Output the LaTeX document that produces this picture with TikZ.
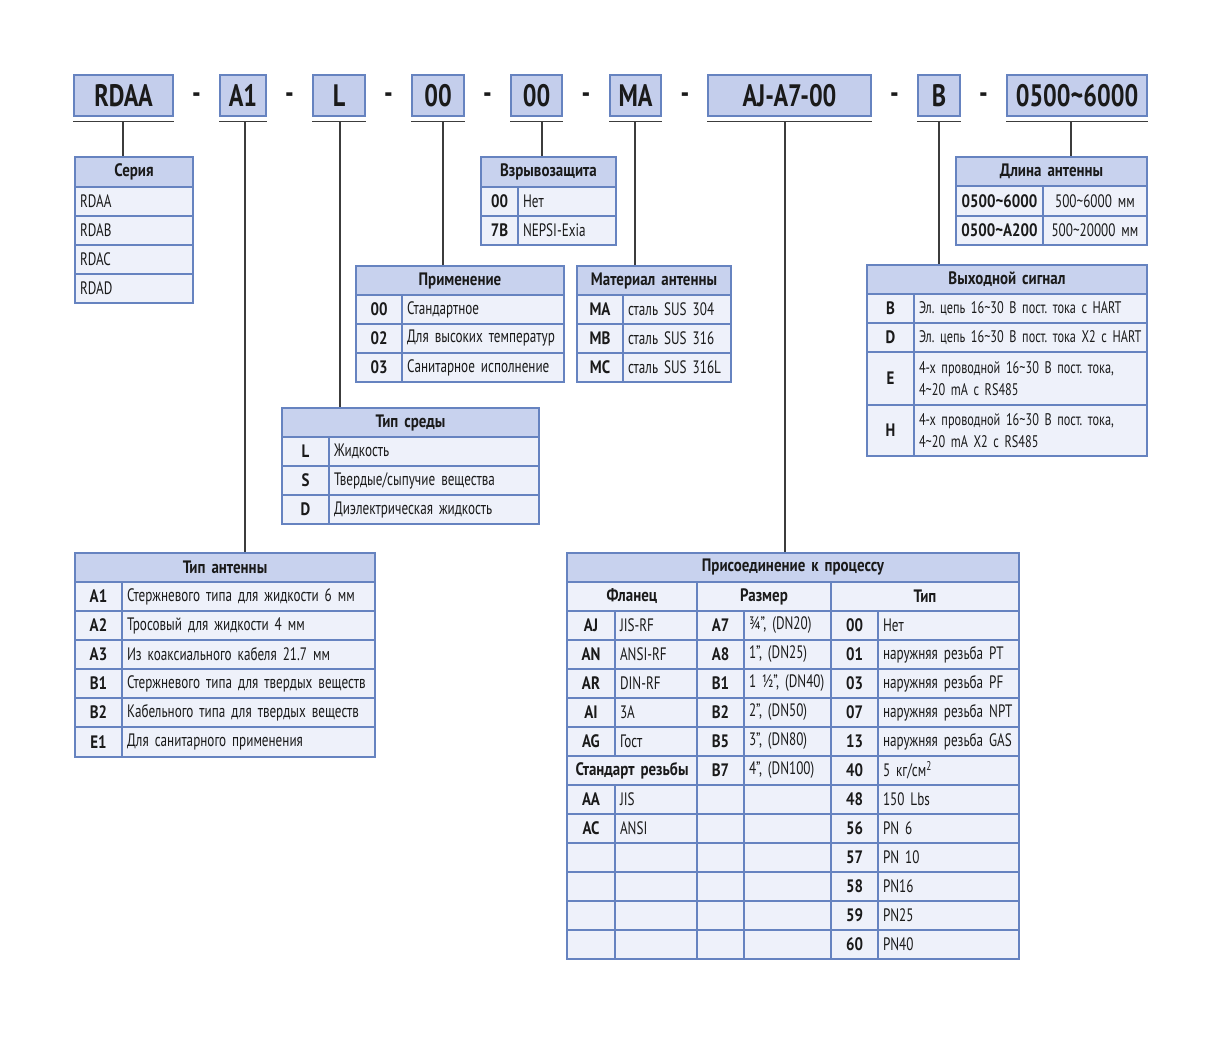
\documentclass[tikz,border=0pt]{standalone}
\usepackage{fontspec}
\setmainfont{PT Sans}[FakeStretch=0.73]
\newfontfamily\bfam{PT Sans}[FakeStretch=0.83]
\newfontfamily\tfam{PT Sans}[FakeStretch=0.78]
\definecolor{bordc}{HTML}{6683C0}
\definecolor{hdrfill}{HTML}{C8D2EE}
\definecolor{rowfill}{HTML}{EEF1FA}
\definecolor{topfill}{HTML}{C4CEEC}
\definecolor{linec}{HTML}{3C3C3C}
\definecolor{txtc}{HTML}{1A1A1A}
\newcommand\tld{\textasciitilde}
\newcommand\spfix{\fontdimen2\font=3.2pt\fontdimen3\font=0pt\fontdimen4\font=0pt\frenchspacing}
\newcommand\fs{\fontsize{18}{21.5}\selectfont\spfix}
\newcommand\fsn{\fontsize{16.8}{21.5}\selectfont\spfix}
\newcommand\fsb{\fontsize{18}{21.5}\bfam\bfseries\selectfont\spfix}
\tikzset{
  cellbase/.style={draw=bordc, line width=1.1pt, fill=rowfill, inner xsep=5pt, inner ysep=0pt, align=center, font=\fs, text=txtc},
  hdr/.style={fill=hdrfill, font=\fsb},
  cd/.style={font=\fsb},
  lft/.style={align=left},
  nar/.style={font=\fsn},
  topbox/.style={draw=bordc, line width=1.1pt, fill=topfill, inner sep=0pt, minimum height=41pt, font=\fontsize{31}{34}\tfam\bfseries\selectfont, text=txtc},
  dashtxt/.style={font=\fontsize{31}{34}\tfam\bfseries\selectfont, text=txtc, inner sep=0pt},
  uline/.style={draw=linec, line width=1.4pt},
  conn/.style={draw=linec, line width=1.1pt}
}
% \cel[style]{name}{x1}{y1}{x2}{y2}{text}
\newcommand\cel[7][]{%
  \pgfmathsetmacro\celw{#5-#3-10}%
  \pgfmathsetmacro\celh{#6-#4}%
  \node[cellbase,#1,text width=\celw pt,minimum height=\celh pt] (#2) at ({(#3+#5)/2},{(#4+#6)/2}) {\mbox{#7}};}
\newcommand\celm[7][]{%
  \pgfmathsetmacro\celw{#5-#3-10}%
  \pgfmathsetmacro\celh{#6-#4}%
  \node[cellbase,#1,text width=\celw pt,minimum height=\celh pt] (#2) at ({(#3+#5)/2},{(#4+#6)/2}) {#7};}
% top box
\newcommand\topb[4]{%
  \pgfmathsetmacro\celw{#3-#2}%
  \node[topbox,minimum width=\celw pt] (#1) at ({(#2+#3)/2},95.5) {\raisebox{-1.5pt}{#4}};
  \draw[uline] ([yshift=-5pt]#1.south west) -- ([yshift=-5pt]#1.south east);}
% process connection row
\newcommand\prow[7]{%
  \pgfmathsetmacro\ya{611+29*#1}%
  \pgfmathsetmacro\yb{640+29*#1}%
  \cel[cd]{p#1a}{567}{\ya}{615}{\yb}{#2}
  \cel[lft]{p#1b}{615}{\ya}{697}{\yb}{#3}
  \cel[cd]{p#1c}{697}{\ya}{744}{\yb}{#4}
  \cel[lft]{p#1d}{744}{\ya}{831}{\yb}{#5}
  \cel[cd]{p#1e}{831}{\ya}{878}{\yb}{#6}
  \cel[lft]{p#1f}{878}{\ya}{1019}{\yb}{#7}}
\begin{document}
\begin{tikzpicture}[x=1pt,y=-1pt]
\fill[white] (0,0) rectangle (1222,1038);
\useasboundingbox (0,0) rectangle (1222,1038);

% ---------- top code ----------
\topb{tA}{74}{173}{RDAA}
\topb{tB}{220}{266}{A1}
\topb{tC}{313}{365}{L}
\topb{tD}{412}{464}{00}
\topb{tE}{511}{562}{00}
\topb{tF}{610}{661}{MA}
\topb{tG}{708}{871}{AJ-A7-00}
\topb{tH}{918}{960}{B}
\topb{tI}{1007}{1147}{0500\tld6000}
\node[dashtxt] (d1) at (196.5,98) {-};
\node[dashtxt] (d2) at (289.5,98) {-};
\node[dashtxt] (d3) at (388.5,98) {-};
\node[dashtxt] (d4) at (487.5,98) {-};
\node[dashtxt] (d5) at (586,98) {-};
\node[dashtxt] (d6) at (685,98) {-};
\node[dashtxt] (d7) at (894.5,98) {-};
\node[dashtxt] (d8) at (983.5,98) {-};

% ---------- Серия ----------
\cel[hdr]{serH}{75}{157}{193}{187}{Серия}
\cel[lft]{ser1}{75}{187}{193}{216}{RDAA}
\cel[lft]{ser2}{75}{216}{193}{245}{RDAB}
\cel[lft]{ser3}{75}{245}{193}{274}{RDAC}
\cel[lft]{ser4}{75}{274}{193}{303}{RDAD}

% ---------- Взрывозащита ----------
\cel[hdr]{exH}{481}{157}{616}{187}{Взрывозащита}
\cel[cd]{ex1a}{481}{187}{518}{216}{00}
\cel[lft]{ex1b}{518}{187}{616}{216}{Нет}
\cel[cd]{ex2a}{481}{216}{518}{245}{7B}
\cel[lft]{ex2b}{518}{216}{616}{245}{NEPSI-Exia}

% ---------- Применение ----------
\cel[hdr]{apH}{356}{266}{564}{295}{Применение}
\cel[cd]{ap1a}{356}{295}{402}{324}{00}
\cel[lft]{ap1b}{402}{295}{564}{324}{Стандартное}
\cel[cd]{ap2a}{356}{324}{402}{353}{02}
\cel[lft]{ap2b}{402}{324}{564}{353}{Для высоких температур}
\cel[cd]{ap3a}{356}{353}{402}{382}{03}
\cel[lft]{ap3b}{402}{353}{564}{382}{Санитарное исполнение}

% ---------- Материал антенны ----------
\cel[hdr]{maH}{577}{266}{731}{295}{Материал антенны}
\cel[cd]{ma1a}{577}{295}{623}{324}{MA}
\cel[lft]{ma1b}{623}{295}{731}{324}{сталь SUS 304}
\cel[cd]{ma2a}{577}{324}{623}{353}{MB}
\cel[lft]{ma2b}{623}{324}{731}{353}{сталь SUS 316}
\cel[cd]{ma3a}{577}{353}{623}{382}{MC}
\cel[lft]{ma3b}{623}{353}{731}{382}{сталь SUS 316L}

% ---------- Тип среды ----------
\cel[hdr]{meH}{282}{408}{539}{437}{Тип среды}
\cel[cd]{me1a}{282}{437}{329}{466}{L}
\cel[lft]{me1b}{329}{437}{539}{466}{Жидкость}
\cel[cd]{me2a}{282}{466}{329}{495}{S}
\cel[lft]{me2b}{329}{466}{539}{495}{Твердые/сыпучие вещества}
\cel[cd]{me3a}{282}{495}{329}{524}{D}
\cel[lft]{me3b}{329}{495}{539}{524}{Диэлектрическая жидкость}

% ---------- Тип антенны ----------
\cel[hdr]{anH}{75}{553}{375}{582}{Тип антенны}
\cel[cd]{an1a}{75}{582}{122}{611}{A1}
\cel[lft]{an1b}{122}{582}{375}{611}{Стержневого типа для жидкости 6 мм}
\cel[cd]{an2a}{75}{611}{122}{640}{A2}
\cel[lft]{an2b}{122}{611}{375}{640}{Тросовый для жидкости 4 мм}
\cel[cd]{an3a}{75}{640}{122}{669}{A3}
\cel[lft]{an3b}{122}{640}{375}{669}{Из коаксиального кабеля 21.7 мм}
\cel[cd]{an4a}{75}{669}{122}{698}{B1}
\cel[lft]{an4b}{122}{669}{375}{698}{Стержневого типа для твердых веществ}
\cel[cd]{an5a}{75}{698}{122}{727}{B2}
\cel[lft]{an5b}{122}{698}{375}{727}{Кабельного типа для твердых веществ}
\cel[cd]{an6a}{75}{727}{122}{757}{E1}
\cel[lft]{an6b}{122}{727}{375}{757}{Для санитарного применения}

% ---------- Длина антенны ----------
\cel[hdr]{lnH}{956}{157}{1147}{186}{Длина антенны}
\cel[cd]{ln1a}{956}{186}{1043}{216}{0500\tld6000}
\cel{ln1b}{1043}{186}{1147}{216}{500\tld6000 мм}
\cel[cd]{ln2a}{956}{216}{1043}{245}{0500\tld A200}
\cel{ln2b}{1043}{216}{1147}{245}{500\tld20000 мм}

% ---------- Выходной сигнал ----------
\cel[hdr]{ouH}{867}{265}{1147}{294}{Выходной сигнал}
\cel[cd]{ou1a}{867}{294}{914}{323}{B}
\cel[lft,nar]{ou1b}{914}{294}{1147}{323}{Эл. цепь 16\tld30 В пост. тока с HART}
\cel[cd]{ou2a}{867}{323}{914}{352}{D}
\cel[lft,nar]{ou2b}{914}{323}{1147}{352}{Эл. цепь 16\tld30 В пост. тока X2 с HART}
\cel[cd]{ou3a}{867}{352}{914}{405}{E}
\celm[lft,nar]{ou3b}{914}{352}{1147}{405}{\mbox{4-х проводной 16\tld30 В пост. тока,}\\\mbox{4\tld20 mA с RS485}}
\cel[cd]{ou4a}{867}{405}{914}{456}{H}
\celm[lft,nar]{ou4b}{914}{405}{1147}{456}{\mbox{4-х проводной 16\tld30 В пост. тока,}\\\mbox{4\tld20 mA X2 с RS485}}

% ---------- Присоединение к процессу ----------
\cel[hdr]{prH}{567}{553}{1019}{582}{Присоединение к процессу}
\cel[cd]{prS1}{567}{582}{697}{611}{Фланец}
\cel[cd]{prS2}{697}{582}{831}{611}{Размер}
\cel[cd]{prS3}{831}{582}{1019}{611}{Тип}
\prow{0}{AJ}{JIS-RF}{A7}{¾”, (DN20)}{00}{Нет}
\prow{1}{AN}{ANSI-RF}{A8}{1”, (DN25)}{01}{наружняя резьба PT}
\prow{2}{AR}{DIN-RF}{B1}{1 ½”, (DN40)}{03}{наружняя резьба PF}
\prow{3}{AI}{3A}{B2}{2”, (DN50)}{07}{наружняя резьба NPT}
\prow{4}{AG}{Гост}{B5}{3”, (DN80)}{13}{наружняя резьба GAS}
\cel[cd]{p5a}{567}{756}{697}{785}{Стандарт резьбы}
\cel[cd]{p5c}{697}{756}{744}{785}{B7}
\cel[lft]{p5d}{744}{756}{831}{785}{4”, (DN100)}
\cel[cd]{p5e}{831}{756}{878}{785}{40}
\cel[lft]{p5f}{878}{756}{1019}{785}{5 кг/см\textsuperscript{2}}
\prow{6}{AA}{JIS}{}{}{48}{150 Lbs}
\prow{7}{AC}{ANSI}{}{}{56}{PN 6}
\prow{8}{}{}{}{}{57}{PN 10}
\prow{9}{}{}{}{}{58}{PN16}
\prow{10}{}{}{}{}{59}{PN25}
\prow{11}{}{}{}{}{60}{PN40}

% ---------- connectors ----------
\coordinate (kA) at (123,121);
\coordinate (kB) at (245,121);
\coordinate (kC) at (340,121);
\coordinate (kD) at (443,121);
\coordinate (kE) at (542,121);
\coordinate (kF) at (635,121);
\coordinate (kG) at (785,121);
\coordinate (kH) at (939,121);
\coordinate (kI) at (1071,121);
\draw[conn] (kA) -- (serH.north -| kA);
\draw[conn] (kB) -- (anH.north -| kB);
\draw[conn] (kC) -- (meH.north -| kC);
\draw[conn] (kD) -- (apH.north -| kD);
\draw[conn] (kE) -- (exH.north -| kE);
\draw[conn] (kF) -- (maH.north -| kF);
\draw[conn] (kG) -- (prH.north -| kG);
\draw[conn] (kH) -- (ouH.north -| kH);
\draw[conn] (kI) -- (lnH.north -| kI);
\end{tikzpicture}
\end{document}
